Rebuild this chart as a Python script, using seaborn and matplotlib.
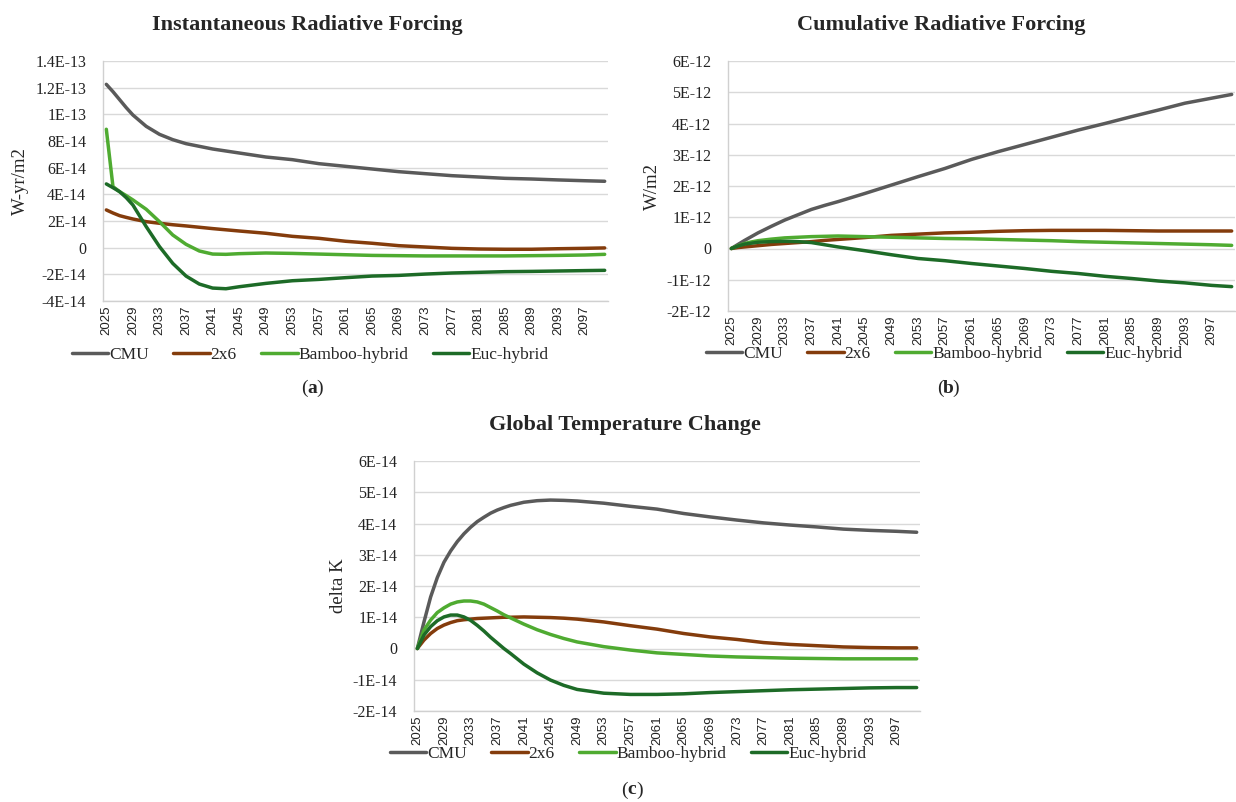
import matplotlib
matplotlib.use("Agg")
import matplotlib.pyplot as plt
import pandas as pd
import seaborn as sns
from matplotlib.ticker import FuncFormatter, MultipleLocator

YEARS_AB = [2025, 2026, 2027, 2028, 2029, 2031, 2033, 2035, 2037, 2039, 2041, 2043, 2045,
            2049, 2053, 2057, 2061, 2065, 2069, 2073, 2077, 2081, 2085, 2089, 2093, 2097, 2100]
YEARS_C = [2025, 2026, 2027, 2028, 2029, 2030, 2031, 2032, 2033, 2034, 2035, 2036, 2037,
           2038, 2039, 2041, 2043, 2045, 2047, 2049, 2053, 2057, 2061, 2065, 2069, 2073,
           2077, 2081, 2085, 2089, 2093, 2097, 2100]
SERIES = ["CMU", "2x6", "Bamboo-hybrid", "Euc-hybrid"]
COLORS = {"CMU": "#5a5a5a", "2x6": "#843c0c", "Bamboo-hybrid": "#4fab31", "Euc-hybrid": "#1d6b27"}
TICK_YEARS = list(range(2025, 2098, 4))

# (a) instantaneous radiative forcing, units of 1E-14 W-yr/m2
inst_cmu = [12.25, 11.7, 11.1, 10.5, 9.95, 9.1, 8.5, 8.1, 7.8, 7.6, 7.4, 7.25, 7.1,
            6.8, 6.6, 6.3, 6.1, 5.9, 5.7, 5.55, 5.4, 5.3, 5.2, 5.15, 5.08, 5.02, 4.98]
inst_2x6 = [2.83, 2.6, 2.4, 2.27, 2.15, 1.95, 1.83, 1.72, 1.63, 1.53, 1.43, 1.34, 1.25,
            1.08, 0.85, 0.7, 0.48, 0.33, 0.15, 0.05, -0.05, -0.1, -0.12, -0.12, -0.08, -0.05, -0.02]
inst_bamboo = [8.88, 4.58, 4.2, 3.9, 3.58, 2.88, 1.95, 0.95, 0.25, -0.25, -0.48, -0.5, -0.45,
               -0.4, -0.43, -0.48, -0.53, -0.58, -0.6, -0.62, -0.62, -0.62, -0.62, -0.6, -0.58, -0.55, -0.5]
inst_euc = [4.78, 4.5, 4.2, 3.75, 3.2, 1.58, 0.08, -1.18, -2.13, -2.73, -3.03, -3.08, -2.93,
            -2.68, -2.48, -2.38, -2.25, -2.13, -2.08, -1.98, -1.9, -1.85, -1.8, -1.78, -1.75, -1.72, -1.7]

# (b) cumulative radiative forcing, units of 1E-12 W/m2
cum_cmu = [0, 0.13, 0.26, 0.38, 0.5, 0.71, 0.91, 1.08, 1.25, 1.38, 1.5, 1.63, 1.76,
           2.03, 2.3, 2.56, 2.85, 3.1, 3.33, 3.56, 3.79, 4.0, 4.22, 4.43, 4.65, 4.81, 4.93]
cum_2x6 = [0, 0.03, 0.05, 0.07, 0.09, 0.13, 0.16, 0.19, 0.22, 0.26, 0.29, 0.32, 0.35,
           0.42, 0.46, 0.5, 0.52, 0.55, 0.57, 0.58, 0.58, 0.58, 0.57, 0.56, 0.56, 0.56, 0.56]
cum_bamboo = [0, 0.09, 0.16, 0.21, 0.25, 0.3, 0.34, 0.36, 0.38, 0.39, 0.4, 0.39, 0.38,
              0.36, 0.34, 0.32, 0.31, 0.29, 0.27, 0.25, 0.22, 0.2, 0.18, 0.16, 0.14, 0.12, 0.1]
cum_euc = [0, 0.08, 0.14, 0.17, 0.2, 0.22, 0.23, 0.22, 0.19, 0.12, 0.05, -0.01, -0.07,
           -0.2, -0.32, -0.39, -0.48, -0.56, -0.64, -0.73, -0.8, -0.89, -0.96, -1.04, -1.1, -1.18, -1.22]

# (c) global temperature change, units of 1E-14 K
temp_cmu = [0, 0.85, 1.65, 2.27, 2.76, 3.12, 3.42, 3.67, 3.88, 4.06, 4.2, 4.33, 4.43,
            4.51, 4.58, 4.68, 4.73, 4.75, 4.74, 4.72, 4.65, 4.55, 4.46, 4.32, 4.21, 4.11,
            4.02, 3.95, 3.89, 3.82, 3.78, 3.75, 3.72]
temp_2x6 = [0, 0.27, 0.48, 0.64, 0.75, 0.83, 0.89, 0.92, 0.94, 0.96, 0.97, 0.98, 0.99,
            1.0, 1.0, 1.01, 1.0, 0.99, 0.97, 0.94, 0.85, 0.73, 0.62, 0.48, 0.37, 0.29,
            0.19, 0.13, 0.09, 0.05, 0.03, 0.02, 0.02]
temp_bamboo = [0, 0.59, 0.91, 1.15, 1.3, 1.42, 1.49, 1.52, 1.52, 1.49, 1.42, 1.31, 1.2,
               1.08, 0.98, 0.78, 0.6, 0.45, 0.32, 0.21, 0.06, -0.05, -0.14, -0.19, -0.24, -0.27,
               -0.29, -0.31, -0.32, -0.33, -0.33, -0.33, -0.33]
temp_euc = [0, 0.43, 0.7, 0.89, 1.01, 1.07, 1.07, 1.01, 0.9, 0.74, 0.56, 0.36, 0.18,
            0.0, -0.16, -0.5, -0.78, -1.01, -1.18, -1.31, -1.43, -1.47, -1.47, -1.45, -1.41, -1.38,
            -1.35, -1.32, -1.3, -1.28, -1.26, -1.25, -1.25]

SERIF = ["Liberation Serif", "DejaVu Serif"]
SANS = ["Liberation Sans", "DejaVu Sans"]
W, H = 1236, 802


def make_frame(years, cols, scale):
    parts = []
    for name, vals in zip(SERIES, cols):
        parts.append(pd.DataFrame({"year": years, "value": [v * scale for v in vals], "series": name}))
    return pd.concat(parts, ignore_index=True)


def excel_fmt(v, _pos):
    if abs(v) < 1e-20:
        return "0"
    return f"{v:.1E}".replace(".0E", "E")


def draw_panel(fig, rect, df, ylim, step, ylabel, ylabel_x, title, title_xy, legend_x, legend_y, tag_xy, tag):
    ax = fig.add_axes(rect)
    sns.lineplot(data=df, x="year", y="value", hue="series", hue_order=SERIES,
                 palette=COLORS, linewidth=2.5, ax=ax)
    ax.set_xlim(2024.5, 2100.5)
    ax.set_ylim(*ylim)
    ax.yaxis.set_major_locator(MultipleLocator(step))
    ax.yaxis.set_major_formatter(FuncFormatter(excel_fmt))
    ax.set_xticks(TICK_YEARS)
    ax.set_xticklabels([str(y) for y in TICK_YEARS], rotation=90, family=SANS, fontsize=9.5)
    for lab in ax.get_yticklabels():
        lab.set_family(SERIF)
        lab.set_fontsize(11.5)
    ax.tick_params(axis="y", length=0, pad=12, colors="#222222")
    ax.tick_params(axis="x", length=0, pad=3, colors="#222222")
    ax.grid(axis="y", color="#d9d9d9", linewidth=1)
    ax.grid(axis="x", visible=False)
    ax.set_axisbelow(True)
    for side in ("top", "right"):
        ax.spines[side].set_visible(False)
    for side in ("left", "bottom"):
        ax.spines[side].set_color("#d0d0d0")
        ax.spines[side].set_linewidth(1)
    ax.set_xlabel("")
    ax.set_ylabel("")
    sns.move_legend(ax, "center", bbox_to_anchor=(legend_x, legend_y), ncol=4, frameon=False,
                    title=None, handlelength=2.1, handletextpad=0.05, columnspacing=1.4,
                    prop={"family": SERIF, "size": 12.5})

    y0 = 1 - (rect[1] + rect[3] / 2)
    fig.text(ylabel_x / W, 1 - y0, ylabel, rotation=90, ha="center", va="center",
             family=SERIF, fontsize=13.5)
    fig.text(title_xy[0] / W, 1 - title_xy[1] / H, title, ha="center", va="center",
             family=SERIF, fontsize=16, fontweight="bold")
    tx, ty = tag_xy[0] / W, 1 - tag_xy[1] / H
    d = 4.5 / W
    fig.text(tx - d, ty, "(", ha="right", va="center", family=SERIF, fontsize=14)
    fig.text(tx, ty, tag, ha="center", va="center", family=SERIF, fontsize=14, fontweight="bold")
    fig.text(tx + d, ty, ")", ha="left", va="center", family=SERIF, fontsize=14)
    return ax


sns.set_theme(style="white")
plt.rcParams["font.family"] = SERIF

fig = plt.figure(figsize=(W / 100, H / 100), dpi=100)

df_a = make_frame(YEARS_AB, [inst_cmu, inst_2x6, inst_bamboo, inst_euc], 1e-14)
df_b = make_frame(YEARS_AB, [cum_cmu, cum_2x6, cum_bamboo, cum_euc], 1e-12)
df_c = make_frame(YEARS_C, [temp_cmu, temp_2x6, temp_bamboo, temp_euc], 1e-14)

draw_panel(fig, [103 / W, 1 - 301 / H, 505 / W, 240 / H], df_a, (-4e-14, 1.4e-13), 2e-14,
           "W-yr/m2", 20, "Instantaneous Radiative Forcing", (307, 25), 0.41, -0.225, (312, 388), "a")
draw_panel(fig, [728 / W, 1 - 311 / H, 507 / W, 250 / H], df_b, (-2e-12, 6e-12), 1e-12,
           "W/m2", 652, "Cumulative Radiative Forcing", (941, 25), 0.426, -0.172, (948, 388), "b")
draw_panel(fig, [414 / W, 1 - 711 / H, 506 / W, 250 / H], df_c, (-2e-14, 6e-14), 1e-14,
           "delta K", 338, "Global Temperature Change", (625, 425), 0.423, -0.172, (632, 790), "c")

fig.savefig("out.png", dpi=100)
